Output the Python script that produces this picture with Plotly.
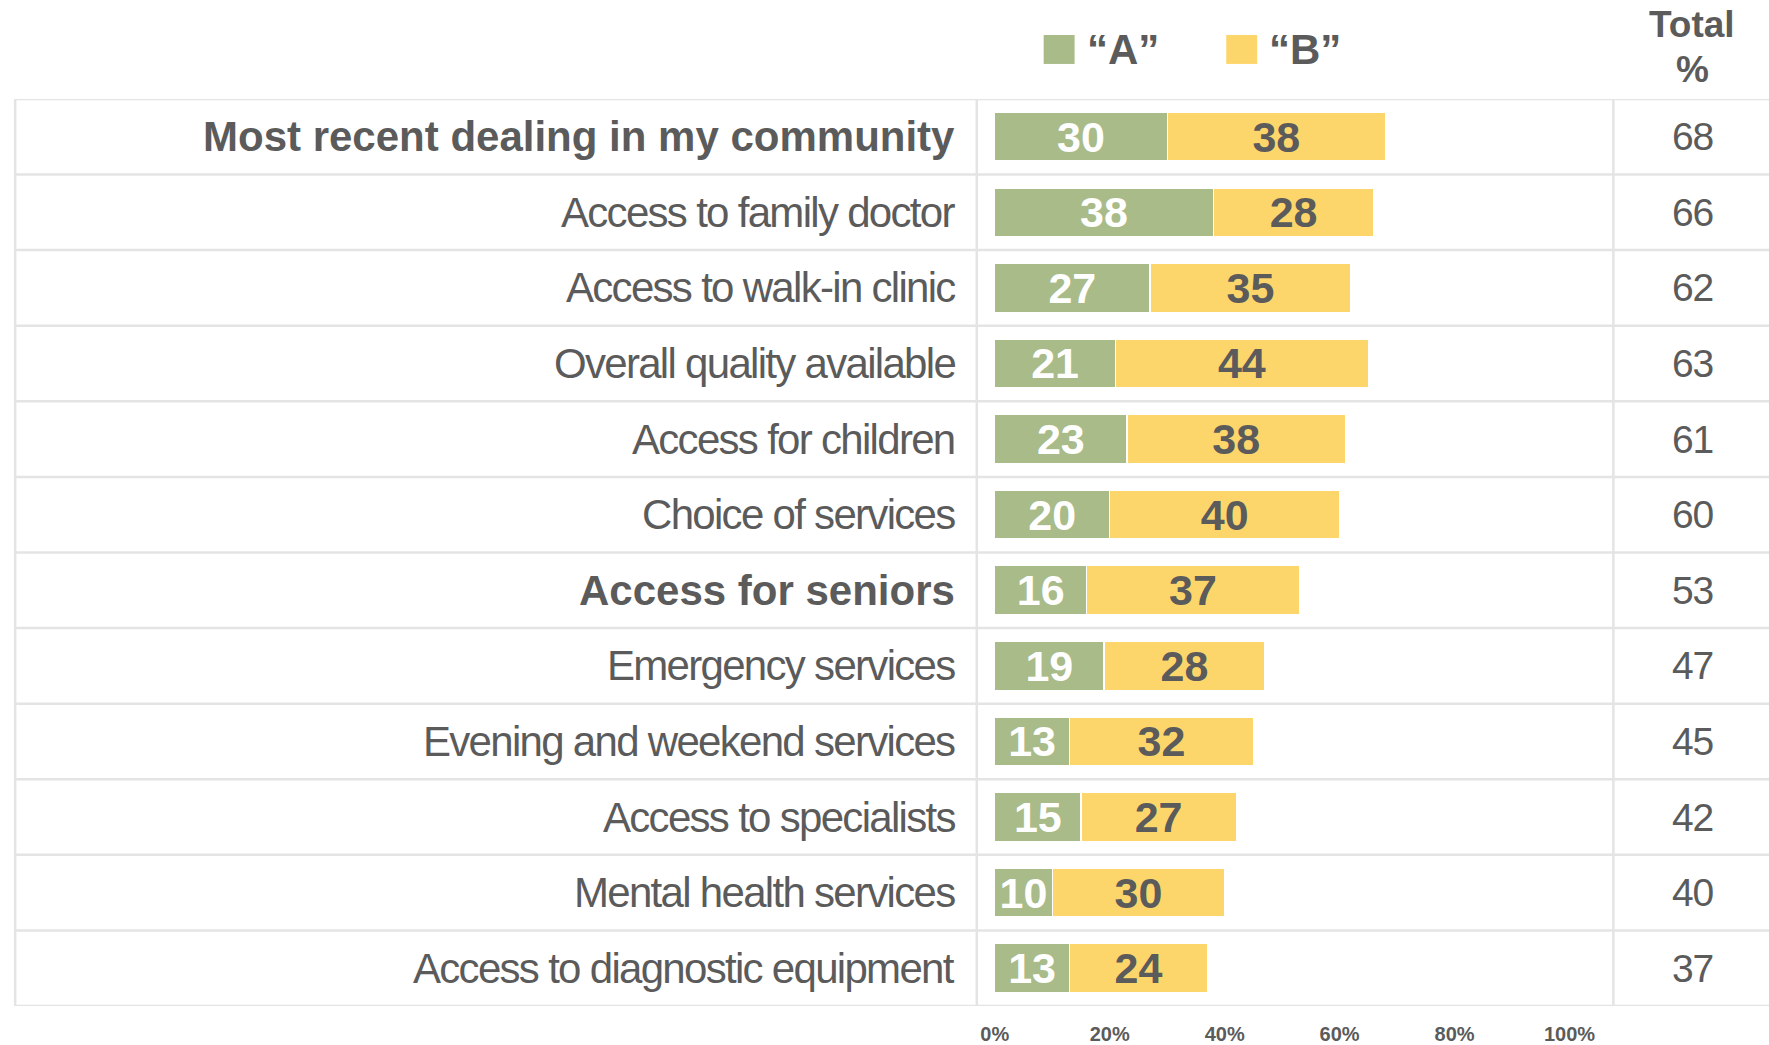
import plotly.graph_objects as go

# Survey items, top to bottom
categories = [
    "Most recent dealing in my community",
    "Access to family doctor",
    "Access to walk-in clinic",
    "Overall quality available",
    "Access for children",
    "Choice of services",
    "Access for seniors",
    "Emergency services",
    "Evening and weekend services",
    "Access to specialists",
    "Mental health services",
    "Access to diagnostic equipment",
]
bold_rows = ["Most recent dealing in my community", "Access for seniors"]
share_a = [30, 38, 27, 21, 23, 20, 16, 19, 13, 15, 10, 13]
share_b = [38, 28, 35, 44, 38, 40, 37, 28, 32, 27, 30, 24]
totals = [68, 66, 62, 63, 61, 60, 53, 47, 45, 42, 40, 37]
tick_values = [0, 20, 40, 60, 80, 100]
tick_labels = ["0%", "20%", "40%", "60%", "80%", "100%"]
series_names = ["\u201cA\u201d", "\u201cB\u201d"]

W, H = 1800, 1045
GREEN = "#a8bb89"
YELLOW = "#fdd66b"
GREY = "#5b5b5b"
LINE = "#e4e4e4"
FONT = "Liberation Sans, Arial, sans-serif"
LABEL_TIGHT = "<span style='letter-spacing:-1.7px'>{}</span>"
NUM_TIGHT = "<span style='letter-spacing:-1.2px'>{}</span>"


def px_x(x):
    # horizontal layout position -> paper fraction
    return max((x - 11) / 0.98, 1.2) / W


def px_y(y):
    return 1 - y / H


table_top, table_bottom = 99, 1007
table_left = 12
label_sep, total_sep = 976, 1614
bar_x0, bar_x100 = 994, 1570

fig = go.Figure()
fig.add_trace(go.Bar(
    y=categories, x=share_a, orientation="h", name=series_names[0],
    marker=dict(color=GREEN, line=dict(color="white", width=1.2)),
    text=share_a, textposition="inside", insidetextanchor="middle",
    constraintext="none", textangle=0,
    textfont=dict(family=FONT, size=43, color="white", weight="bold"),
    width=0.645, showlegend=False,
))
fig.add_trace(go.Bar(
    y=categories, x=share_b, orientation="h", name=series_names[1],
    marker=dict(color=YELLOW, line=dict(color="white", width=1.2)),
    text=share_b, textposition="inside", insidetextanchor="middle",
    constraintext="none", textangle=0,
    textfont=dict(family=FONT, size=43, color=GREY, weight="bold"),
    width=0.645, showlegend=False,
))

annotations = []
shapes = []

# Row labels and totals column
for cat, tot in zip(categories, totals):
    is_bold = cat in bold_rows
    annotations.append(dict(
        x=px_x(956), xref="paper", y=cat, yref="y",
        xanchor="right", yanchor="middle", showarrow=False,
        text=f"<b>{cat}</b>" if is_bold else LABEL_TIGHT.format(cat),
        font=dict(family=FONT, size=42, color=GREY),
    ))
    annotations.append(dict(
        x=px_x(1693), xref="paper", y=cat, yref="y",
        xanchor="center", yanchor="middle", showarrow=False,
        text=NUM_TIGHT.format(tot), font=dict(family=FONT, size=39, color=GREY),
    ))

# Row separators
n = len(categories)
for k in range(n + 1):
    shapes.append(dict(
        type="line", xref="paper", yref="y",
        x0=px_x(table_left), x1=1, y0=k - 0.5, y1=k - 0.5,
        line=dict(color=LINE, width=2.5), layer="below",
    ))
# Column separators
for xv in (table_left, label_sep, total_sep):
    shapes.append(dict(
        type="line", xref="paper", yref="paper",
        x0=px_x(xv), x1=px_x(xv), y0=px_y(table_bottom), y1=px_y(table_top),
        line=dict(color=LINE, width=2.5), layer="below",
    ))

# Legend swatches
for name, color, sx in zip(series_names, [GREEN, YELLOW], [1043, 1226]):
    shapes.append(dict(
        type="rect", xref="paper", yref="paper",
        x0=px_x(sx), x1=px_x(sx + 31), y0=px_y(64), y1=px_y(35),
        fillcolor=color, line=dict(width=0),
    ))
    annotations.append(dict(
        x=px_x(sx + 41), xref="paper", y=px_y(50), yref="paper",
        xanchor="left", yanchor="middle", showarrow=False,
        text=f"<b>{name}</b>", font=dict(family=FONT, size=42, color=GREY),
    ))

# Column header for totals
for txt, yc in (("Total", 25), ("%", 70)):
    annotations.append(dict(
        x=px_x(1693), xref="paper", y=px_y(yc), yref="paper",
        xanchor="center", yanchor="middle", showarrow=False,
        text=f"<b>{txt}</b>", font=dict(family=FONT, size=37, color=GREY),
    ))

fig.update_layout(
    barmode="stack",
    width=W, height=H,
    margin=dict(l=0, r=0, t=0, b=0),
    paper_bgcolor="white", plot_bgcolor="rgba(0,0,0,0)",
    xaxis=dict(
        domain=[px_x(bar_x0), px_x(bar_x100)], range=[0, 100],
        tickmode="array", tickvals=tick_values, ticktext=tick_labels,
        tickfont=dict(family=FONT, size=20, color=GREY, weight="bold"),
        showgrid=False, zeroline=False, showline=False,
        ticklabelstandoff=14, fixedrange=True,
    ),
    yaxis=dict(
        domain=[px_y(table_bottom), px_y(table_top)],
        range=[n - 0.5, -0.5], categoryorder="array", categoryarray=categories,
        showticklabels=False, showgrid=False, zeroline=False, showline=False,
        fixedrange=True,
    ),
    shapes=shapes,
    annotations=annotations,
)

fig.write_html(
    "out.html",
    post_script="document.body.style.margin='0';document.body.style.overflow='hidden';",
)
